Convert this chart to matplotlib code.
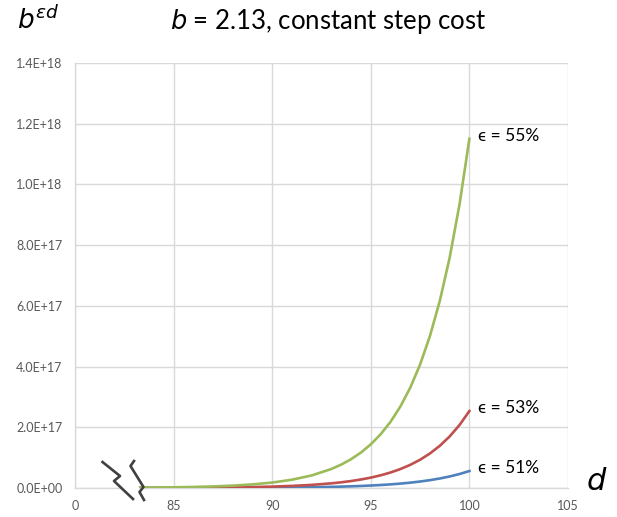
import matplotlib
matplotlib.use("Agg")
import matplotlib.pyplot as plt
from matplotlib.lines import Line2D
from matplotlib.patches import Polygon

plt.rcParams['font.family'] = ['Lato', 'DejaVu Sans']

# depth d and b^(eps*d) (b = 2.13)
depth = [83.25, 84, 85, 86, 87, 88, 89, 90, 91, 92, 93, 93.5, 94, 94.5, 95, 95.5,
         96, 96.5, 97, 97.5, 98, 98.5, 99, 99.5, 100]
eps51 = [8.6e13, 1.169e14, 1.718e14, 2.527e14, 3.716e14, 5.465e14, 8.036e14, 1.182e15,
         1.738e15, 2.556e15, 3.758e15, 4.56e15, 5.527e15, 6.70e15, 8.127e15, 9.86e15,
         1.195e16, 1.450e16, 1.758e16, 2.132e16, 2.585e16, 3.134e16, 3.801e16,
         4.609e16, 5.589e16]
eps53 = [3.08e14, 4.167e14, 6.220e14, 9.286e14, 1.386e15, 2.070e15, 3.090e15, 4.612e15,
         6.886e15, 1.028e16, 1.5346e16, 1.876e16, 2.291e16, 2.799e16, 3.420e16,
         4.178e16, 5.106e16, 6.238e16, 7.622e16, 9.311e16, 1.1379e17, 1.3903e17,
         1.6988e17, 2.0756e17, 2.536e17]
eps55 = [1.09e15, 1.484e15, 2.249e15, 3.408e15, 5.166e15, 7.829e15, 1.1866e16, 1.7985e16,
         2.726e16, 4.131e16, 6.262e16, 7.709e16, 9.490e16, 1.1683e17, 1.4384e17,
         1.7708e17, 2.180e17, 2.684e17, 3.304e17, 4.068e17, 5.008e17, 6.165e17,
         7.590e17, 9.344e17, 1.1504e18]
labels = ["\u03f5 = 51%", "\u03f5 = 53%", "\u03f5 = 55%"]
colors = ["#4f81bd", "#c0504d", "#9bbb59"]

xticks = [80, 85, 90, 95, 100, 105]
xticklabels = ["0", "85", "90", "95", "100", "105"]
yticks = [0, 2e17, 4e17, 6e17, 8e17, 1e18, 1.2e18, 1.4e18]
yticklabels = ["0.0E+00", "2.0E+17", "4.0E+17", "6.0E+17", "8.0E+17",
               "1.0E+18", "1.2E+18", "1.4E+18"]

W, H = 617, 517
fig = plt.figure(figsize=(W / 100, H / 100), dpi=100)
ax = fig.add_axes([75 / W, 1 - 488 / H, (568 - 75) / W, (488 - 63) / H])

for ys, c, lab in zip([eps51, eps53, eps55], colors, labels):
    ax.plot(depth, ys, color=c, lw=1.9, solid_joinstyle='round', zorder=3)
    ax.annotate(lab, (depth[-1], ys[-1]), xytext=(6, 2), textcoords='offset points',
                fontsize=12.5, color='black', va='center', ha='left')

ax.set_xlim(80, 105)
ax.set_ylim(0, 1.4e18)
ax.set_xticks(xticks)
ax.set_xticklabels(xticklabels)
ax.set_yticks(yticks)
ax.set_yticklabels(yticklabels)
ax.tick_params(length=0, labelsize=9, labelcolor='#595959', pad=9)
ax.grid(True, color='#d9d9d9', lw=1)
ax.set_axisbelow(True)
for side in ['top', 'right']:
    ax.spines[side].set_visible(False)
for side in ['left', 'bottom']:
    ax.spines[side].set_color('#d9d9d9')
    ax.spines[side].set_linewidth(1)


def fx(px):
    return px / W


def fy(py):
    return 1 - py / H


# axis break marker
gap = Polygon([(fx(106), fy(462)), (fx(131), fy(462)), (fx(143), fy(500)), (fx(131), fy(500))],
              closed=True, transform=fig.transFigure, facecolor='white', edgecolor='none',
              zorder=5)
fig.patches.append(gap)
z1x = [102.5, 120, 114, 133]
z1y = [462, 476, 481, 499]
z2x = [134, 130.5, 143.5, 139.5, 144]
z2y = [461, 466, 487, 492, 500]
for zx, zy in [(z1x, z1y), (z2x, z2y)]:
    fig.lines.append(Line2D([fx(v) for v in zx], [fy(v) for v in zy],
                            transform=fig.transFigure, color='#404040', lw=1.9, zorder=6))

# title and axis labels
fig.text(fx(328), fy(22), r"$b$ = 2.13, constant step cost", fontsize=18.5,
         ha='center', va='center', color='black')
fig.text(fx(38), fy(20), r"$b^{\epsilon d}$", fontsize=19, ha='center', va='center')
fig.text(fx(597), fy(481), r"$d$", fontsize=22, ha='center', va='center')

fig.savefig("out.png", dpi=100)
